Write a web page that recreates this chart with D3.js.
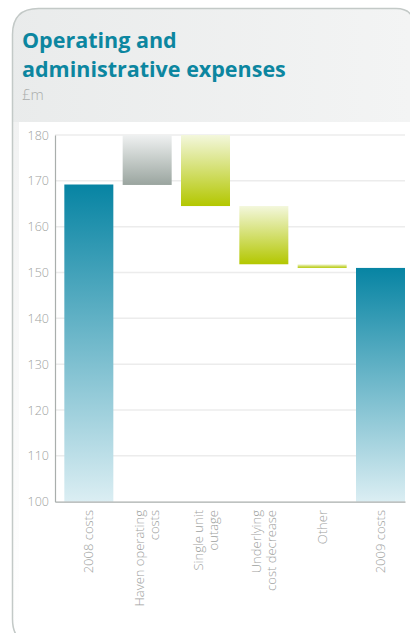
<!DOCTYPE html>
<html>
<head>
<meta charset="utf-8">
<script src="https://cdn.jsdelivr.net/npm/d3@7"></script>
<style>
  html, body { margin: 0; padding: 0; background: #ffffff; }
  svg { display: block; }
</style>
</head>
<body>
<svg id="chart" width="410" height="633"></svg>
<script>
// Waterfall steps, £m
const categories = ["2008 costs", "Haven operating costs", "Single unit outage", "Underlying cost decrease", "Other", "2009 costs"];
const labelLines = [["2008 costs"], ["Haven operating", "costs"], ["Single unit", "outage"], ["Underlying", "cost decrease"], ["Other"], ["2009 costs"]];
const barStart = [100, 169.1, 180, 164.5, 151.8, 100];
const barEnd   = [169.2, 180, 164.5, 151.8, 151.0, 151.0];
const barKind  = ["total", "increase", "decrease", "decrease", "decrease", "total"];
const yTicks = [100, 110, 120, 130, 140, 150, 160, 170, 180];

const svg = d3.select("#chart");
const W = 410, H = 633;

const defs = svg.append("defs");
const grad = (id, top, bottom) => {
  const g = defs.append("linearGradient").attr("id", id)
    .attr("x1", 0).attr("y1", 0).attr("x2", 0).attr("y2", 1);
  g.append("stop").attr("offset", "0%").attr("stop-color", top);
  g.append("stop").attr("offset", "100%").attr("stop-color", bottom);
};
grad("g-total", "#0784a3", "#dbeef3");
grad("g-increase", "#eff1f1", "#9aa59f");
grad("g-decrease", "#f3f7dc", "#b3c700");

// header band fading left to right
const hdr = defs.append("linearGradient").attr("id", "g-header")
  .attr("x1", 0).attr("y1", 0).attr("x2", 1).attr("y2", 0);
hdr.append("stop").attr("offset", "0%").attr("stop-color", "#e9ebeb");
hdr.append("stop").attr("offset", "100%").attr("stop-color", "#f3f4f4");
const side = defs.append("linearGradient").attr("id", "g-side")
  .attr("x1", 0).attr("y1", 0).attr("x2", 0).attr("y2", 1);
side.append("stop").attr("offset", "0%").attr("stop-color", "#eeefef");
side.append("stop").attr("offset", "100%").attr("stop-color", "#ffffff");

// card outline with rounded corners
const L = 12.5, T = 8.5, R = 414, B = 645, rTL = 26, rTR = 18, rBL = 26;
const cardPath = `M${L},${T + rTL} Q${L},${T} ${L + rTL},${T} L${R - rTR},${T} Q${R},${T} ${R},${T + rTR} L${R},${B} L${L + rBL},${B} Q${L},${B} ${L},${B - rBL} Z`;
defs.append("clipPath").attr("id", "card-clip").append("path").attr("d", cardPath);

const card = svg.append("g").attr("clip-path", "url(#card-clip)");
card.append("rect").attr("x", 0).attr("y", 0).attr("width", W).attr("height", H).attr("fill", "url(#g-side)");
card.append("rect").attr("x", 0).attr("y", 0).attr("width", W).attr("height", 122).attr("fill", "url(#g-header)");
card.append("rect").attr("x", 19).attr("y", 122).attr("width", W).attr("height", H).attr("fill", "#ffffff");
svg.append("path").attr("d", cardPath).attr("fill", "none")
  .attr("stroke", "#c3c9c7").attr("stroke-width", 1.5);

// title
const title = svg.append("text").attr("x", 22).attr("fill", "#0c86a0")
  .attr("font-family", "'Open Sans', sans-serif").attr("font-weight", 700).attr("font-size", 21.5);
title.append("tspan").attr("x", 22).attr("y", 48).text("Operating and");
title.append("tspan").attr("x", 22).attr("y", 77).text("administrative expenses");
svg.append("text").attr("x", 22).attr("y", 100).attr("fill", "#a9adab")
  .attr("font-family", "'Open Sans', sans-serif").attr("font-weight", 300).attr("font-size", 15).text("£m");

// scales
const x = d3.scaleBand().domain(categories).range([55, 405])
  .paddingInner(0.16).paddingOuter(0.08).align(1);
const y = d3.scaleLinear().domain([100, 180]).range([501.7, 135]);

// gridlines
svg.append("g").selectAll("line").data(yTicks.slice(1)).join("line")
  .attr("x1", 55).attr("x2", 405)
  .attr("y1", d => y(d)).attr("y2", d => y(d))
  .attr("stroke", "#ececec").attr("stroke-width", 1.5);

// bars
svg.append("g").selectAll("rect").data(categories).join("rect")
  .attr("x", d => x(d))
  .attr("width", x.bandwidth())
  .attr("y", (d, i) => y(Math.max(barStart[i], barEnd[i])))
  .attr("height", (d, i) => Math.abs(y(barStart[i]) - y(barEnd[i])))
  .attr("fill", (d, i) => `url(#g-${barKind[i]})`);

// y axis
const yAxis = svg.append("g").attr("transform", "translate(55,0)")
  .call(d3.axisLeft(y).tickValues(yTicks).tickSize(0).tickPadding(6));
yAxis.select(".domain").attr("stroke", "#a9aeac").attr("stroke-width", 1.2);
yAxis.selectAll("text").attr("fill", "#9ea2a0")
  .attr("font-family", "'Open Sans', sans-serif").attr("font-size", 12.5).attr("font-weight", 300);

// x axis
const xAxis = svg.append("g").attr("transform", "translate(0,501.7)")
  .call(d3.axisBottom(x).tickSize(0).tickFormat(""));
xAxis.select(".domain").attr("stroke", "#a9aeac").attr("stroke-width", 1.2);

const lab = svg.append("g").selectAll("text").data(categories).join("text")
  .attr("transform", d => `translate(${x(d) + x.bandwidth() / 2},510) rotate(-90)`)
  .attr("text-anchor", "end")
  .attr("fill", "#9ea2a0")
  .attr("font-family", "'Open Sans', sans-serif").attr("font-size", 13).attr("font-weight", 300);
lab.each(function (d, i) {
  const lines = labelLines[i];
  const n = lines.length;
  d3.select(this).selectAll("tspan").data(lines).join("tspan")
    .attr("x", 0)
    .attr("y", (l, k) => (k - (n - 1) / 2) * 15 + 4.6)
    .text(l => l);
});
</script>
</body>
</html>
